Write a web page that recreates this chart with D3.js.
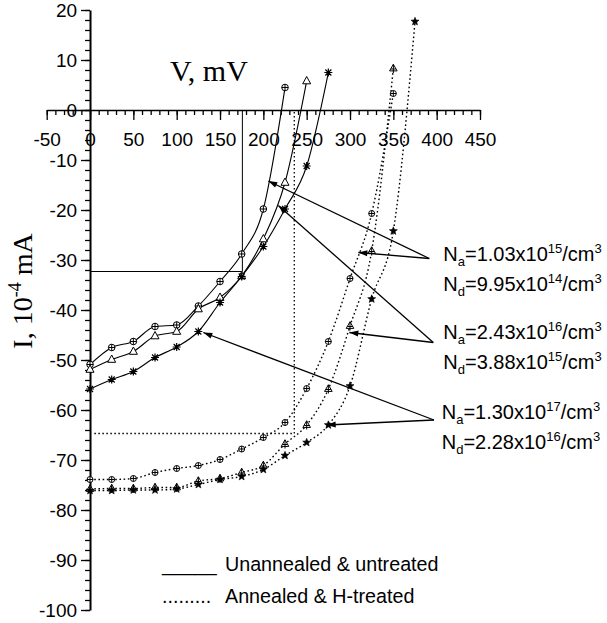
<!DOCTYPE html>
<html><head><meta charset="utf-8">
<script src="https://cdn.jsdelivr.net/npm/d3@7"></script>
<style>body{margin:0;background:#fff}svg{display:block}</style>
</head><body>
<script>
// ---------- data ----------
const voltsSolidCircle = [0,25,50,75,100,125,150,175,200,225];
const currSolidCircle  = [-50.9,-47.5,-46.3,-43.3,-43.0,-39.2,-34.3,-28.8,-19.8,4.5];
const voltsSolidTri    = [0,25,50,75,100,125,150,175,200,225,250];
const currSolidTri     = [-51.9,-49.9,-48.3,-45.2,-44.3,-39.8,-37.5,-33.2,-25.8,-14.5,5.8];
const voltsSolidAst    = [0,25,50,75,100,125,150,175,200,225,250,275];
const currSolidAst     = [-55.8,-53.9,-52.3,-49.5,-47.4,-44.3,-38.5,-33.3,-27.3,-19.8,-11.2,7.5];
const voltsDotCircle   = [0,25,50,75,100,125,150,175,200,225,250,275,300,325,350];
const currDotCircle    = [-73.9,-73.9,-73.7,-72.5,-71.7,-71.1,-69.9,-67.8,-65.5,-62.5,-55.7,-46.3,-33.7,-20.7,3.3];
const voltsDotTri      = [0,25,50,75,100,125,150,175,200,225,250,275,300,325,350];
const currDotTri       = [-75.8,-75.7,-75.7,-75.5,-75.5,-74.2,-73.7,-72.5,-71.1,-66.8,-63.0,-55.8,-43.2,-28.2,8.3];
const voltsDotStar     = [0,25,50,75,100,125,150,175,200,225,250,275,300,325,350,375];
const currDotStar      = [-76.1,-76.1,-76.0,-76.0,-75.8,-74.9,-73.9,-73.3,-71.9,-69.1,-66.5,-63.0,-55.2,-37.8,-24.2,17.7];

const xTickLabels = [-50,0,50,100,150,200,250,300,350,400,450];
const yTickLabels = [20,10,0,-10,-20,-30,-40,-50,-60,-70,-80,-90,-100];

// reference guide lines (data units)
const solidGuide = [[0,-32.3],[175.8,-32.3],[175.8,0]];
const dotGuide   = [[5,-64.7],[235.7,-64.7],[235.7,0]];

// annotation labels and arrows (data units)
const annoLabels = [
  {na:"1.03", ne:"15", nd:"9.95", de:"14"},
  {na:"2.43", ne:"16", nd:"3.88", de:"15"},
  {na:"1.30", ne:"17", nd:"2.28", de:"16"}
];
const annoApex    = [[391.5,-29.7],[396.1,-46.5],[396.9,-62.0]];
const annoTargetA = [[205.7,-14.2],[217.3,-19.1],[130.7,-44.5]];
const annoTargetB = [[309.6,-28.5],[299.2,-44.5],[273.1,-63.0]];
const annoLabelV  = [-29.8,-45.8,-61.8];

const legendLabels = ["Unannealed & untreated","Annealed & H-treated"];

// ---------- drawing ----------
const W=607,H=623;
const svg=d3.select("body").append("svg").attr("width",W).attr("height",H);
const x=d3.scaleLinear().domain([-50,450]).range([46.7,480]);
const y=d3.scaleLinear().domain([-100,20]).range([610,10]);
const sans='"Liberation Sans", Arial, Helvetica, sans-serif';
const serif='"Liberation Serif", "Times New Roman", serif';
const fmt=d=>String(d);

// guide lines
const lg=d3.line().x(d=>x(d[0])).y(d=>y(d[1]));
svg.append("path").attr("d",lg(solidGuide)).attr("fill","none").attr("stroke","#000").attr("stroke-width",1);
svg.append("path").attr("d",lg(dotGuide)).attr("fill","none").attr("stroke","#000").attr("stroke-width",1.3).attr("stroke-dasharray","1.5,2.5");

// x axis
const xAxisG=svg.append("g").attr("transform",`translate(0,${y(0)})`);
xAxisG.append("g").call(d3.axisBottom(x).tickValues(d3.range(-50,451,10)).tickSize(5).tickSizeOuter(0).tickFormat(""))
  .call(g=>g.select(".domain").attr("stroke-width",1.5));
xAxisG.append("g").call(d3.axisBottom(x).tickValues(xTickLabels).tickSize(10).tickSizeOuter(0).tickPadding(13).tickFormat(fmt))
  .call(g=>g.select(".domain").remove())
  .call(g=>g.selectAll("text").attr("font-family",sans).attr("font-size",19).attr("fill","#000"));
xAxisG.selectAll("line").attr("stroke-width",1.3);

// y axis
const yAxisG=svg.append("g").attr("transform",`translate(${x(0)},0)`);
yAxisG.append("g").call(d3.axisLeft(y).tickValues(d3.range(-100,21,2)).tickSize(5).tickSizeOuter(0).tickFormat(""))
  .call(g=>g.select(".domain").attr("stroke-width",2));
yAxisG.append("g").call(d3.axisLeft(y).tickValues(yTickLabels).tickSize(9).tickSizeOuter(0).tickPadding(4).tickFormat(fmt))
  .call(g=>g.select(".domain").remove())
  .call(g=>g.selectAll("text").attr("font-family",sans).attr("font-size",19).attr("fill","#000").attr("dy","0.36em"));
yAxisG.selectAll("line").attr("stroke-width",1.3);

// axis titles
svg.append("text").attr("x",170).attr("y",81).attr("font-family",serif).attr("font-size",30).text("V, mV");
const yt=svg.append("text").attr("transform","translate(32,291) rotate(-90)").attr("text-anchor","middle")
  .attr("font-family",serif).attr("font-size",28);
yt.append("tspan").text("I, 10");
yt.append("tspan").attr("dy",-11).attr("font-size",18).text("-4");
yt.append("tspan").attr("dy",11).text(" mA");

// curves
const series=[
  {v:voltsSolidCircle,c:currSolidCircle,m:"circ",dash:null},
  {v:voltsSolidTri,c:currSolidTri,m:"tri",dash:null},
  {v:voltsSolidAst,c:currSolidAst,m:"ast",dash:null},
  {v:voltsDotCircle,c:currDotCircle,m:"circ2",dash:"1.6,2.6"},
  {v:voltsDotTri,c:currDotTri,m:"triX",dash:"1.6,2.6"},
  {v:voltsDotStar,c:currDotStar,m:"star",dash:"1.6,2.6"}
];
const line=d3.line().x(d=>x(d[0])).y(d=>y(d[1])).curve(d3.curveMonotoneX);
series.forEach(s=>{
  const pts=s.v.map((v,i)=>[v,s.c[i]]);
  const p=svg.append("path").attr("d",line(pts)).attr("fill","none").attr("stroke","#000").attr("stroke-width",s.dash?1.4:1.1);
  if(s.dash) p.attr("stroke-dasharray",s.dash);
});
function marker(g,type,cx,cy){
  const m=g.append("g").attr("transform",`translate(${cx},${cy})`).attr("stroke","#000").attr("stroke-width",1);
  if(type==="circ"||type==="circ2"){
    const r=type==="circ"?3.3:3;
    m.append("circle").attr("r",r).attr("fill","#fff");
    m.append("path").attr("d",`M${-r},0H${r}M0,${-r}V${r}`);
  }else if(type==="tri"){
    m.append("path").attr("d","M0,-4.5L4,2.8L-4,2.8Z").attr("fill","#fff");
  }else if(type==="triX"){
    m.append("path").attr("d","M0,-4.2L3.8,2.4L-3.8,2.4Z").attr("fill","#fff");
    m.append("path").attr("d","M0,-4.2V4.5M-2.5,0.5H2.5");
  }else if(type==="ast"){
    m.append("path").attr("d","M-4,0H4M0,-4V4M-3,-3L3,3M-3,3L3,-3").attr("stroke-width",1.2);
  }else if(type==="star"){
    const pts=d3.range(10).map(k=>{const a=-Math.PI/2+k*Math.PI/5;const rr=k%2?1.8:4.2;return [rr*Math.cos(a),rr*Math.sin(a)];});
    m.append("path").attr("d","M"+pts.join("L")+"Z").attr("fill","#000").attr("stroke-width",0.6);
  }
}
const mg=svg.append("g");
series.forEach(s=>s.v.forEach((v,i)=>marker(mg,s.m,x(v),y(s.c[i]))));

// annotation arrows
function arrow(from,to){
  const x1=x(from[0]),y1=y(from[1]),x2=x(to[0]),y2=y(to[1]);
  svg.append("line").attr("x1",x1).attr("y1",y1).attr("x2",x2).attr("y2",y2).attr("stroke","#000").attr("stroke-width",1.3);
  const a=Math.atan2(y2-y1,x2-x1),L=9,w=3;
  const bx=x2-L*Math.cos(a),by=y2-L*Math.sin(a);
  const p=[[x2,y2],[bx+w*Math.sin(a),by-w*Math.cos(a)],[bx-w*Math.sin(a),by+w*Math.cos(a)]];
  svg.append("path").attr("d","M"+p.join("L")+"Z").attr("fill","#000");
}
annoApex.forEach((ap,i)=>{arrow(ap,annoTargetA[i]);arrow(ap,annoTargetB[i]);});

// annotation texts
annoLabels.forEach((d,i)=>{
  const lx=i===2?441.7:443.3;
  const by=y(annoLabelV[i])+(i===0?2:0);
  const rows=[["a",d.na,d.ne],["d",d.nd,d.de]];
  rows.forEach((r,k)=>{
    const t=svg.append("text").attr("x",lx).attr("y",by+30*k).attr("font-family",sans).attr("font-size",20);
    t.append("tspan").text("N");
    t.append("tspan").attr("dy",5).attr("font-size",13).text(r[0]);
    t.append("tspan").attr("dy",-5).text("="+r[1]+"x10");
    t.append("tspan").attr("dy",-8).attr("font-size",13).text(r[2]);
    t.append("tspan").attr("dy",8).text("/cm");
    t.append("tspan").attr("dy",-8).attr("font-size",13).text("3");
  });
});

// legend
const prefixes=["_____","........."];
legendLabels.forEach((lab,i)=>{
  const t=svg.append("text").attr("y",571+32*i).attr("font-family",sans).attr("font-size",19.7);
  t.append("tspan").attr("x",162).text(prefixes[i]);
  t.append("tspan").attr("x",225).text(lab);
});
</script>
</body></html>
